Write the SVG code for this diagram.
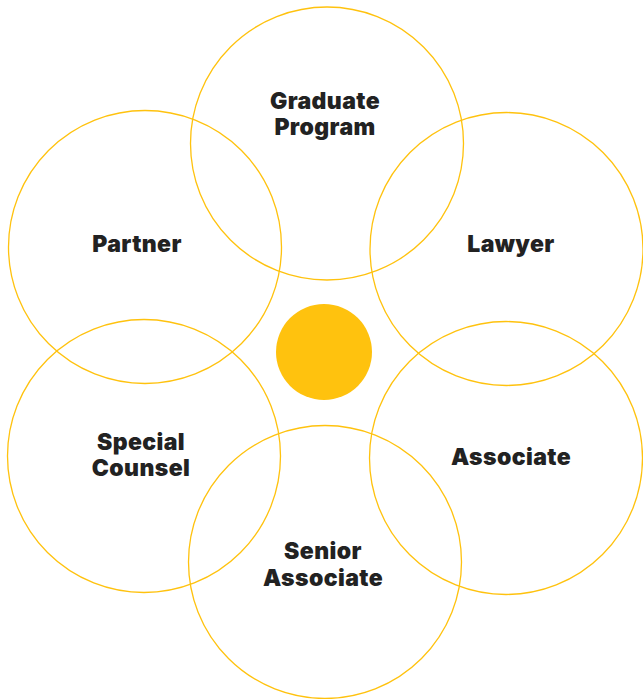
<svg xmlns="http://www.w3.org/2000/svg" width="643" height="699" viewBox="0 0 643 699">
  <style>
    .ring { fill: none; stroke: #FFC20E; stroke-width: 1.3; }
    .label { font-family: Inter, "Liberation Sans", sans-serif; font-weight: 900; font-size: 23px; letter-spacing: 0.4px; fill: #222222; text-anchor: middle; }
  </style>
  <rect width="643" height="699" fill="#ffffff"/>
  <g id="hub">
    <circle cx="324" cy="352" r="48" fill="#FFC20E"/>
  </g>
  <g id="graduate-program">
    <circle class="ring" cx="327" cy="143.5" r="136.5"/>
    <text class="label" x="325" y="109">Graduate</text>
    <text class="label" x="325" y="135">Program</text>
  </g>
  <g id="partner">
    <circle class="ring" cx="145" cy="247" r="136.5"/>
    <text class="label" x="137" y="252">Partner</text>
  </g>
  <g id="lawyer">
    <circle class="ring" cx="506.5" cy="249" r="136.5"/>
    <text class="label" x="511" y="252">Lawyer</text>
  </g>
  <g id="special-counsel">
    <circle class="ring" cx="144" cy="456" r="136.5"/>
    <text class="label" x="141" y="450">Special</text>
    <text class="label" x="141" y="476">Counsel</text>
  </g>
  <g id="associate">
    <circle class="ring" cx="506" cy="458" r="136.5"/>
    <text class="label" x="511" y="465">Associate</text>
  </g>
  <g id="senior-associate">
    <circle class="ring" cx="325" cy="562" r="136.5"/>
    <text class="label" x="323" y="559">Senior</text>
    <text class="label" x="323" y="586">Associate</text>
  </g>
  <g id="connectors"></g>
</svg>
